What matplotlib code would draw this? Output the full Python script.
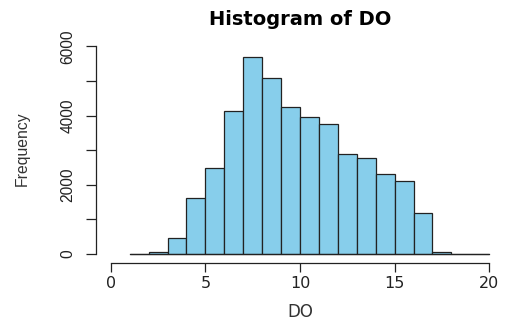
import numpy as np
import matplotlib.pyplot as plt

plt.rcParams['font.family'] = ['DejaVu Sans']

# Histogram of DO: bin edges (width 1) and counts
bin_edges = np.arange(1, 21)
counts = [0, 60, 460, 1620, 2470, 4130, 5700, 5090, 4240, 3950,
          3750, 2880, 2760, 2320, 2110, 1170, 55, 0, 0]

x_ticks = [0, 5, 10, 15, 20]
y_ticks = [0, 2000, 4000, 6000]
y_minor = [1000, 3000, 5000]

fig = plt.figure(figsize=(5.05, 3.24), dpi=100)
W, H = 505, 324
# axes placed in pixel terms: x 0..20 -> 110.7..489.3, y 0..6000 -> 253.8..46.5
x_px = (95.6, 504.4)
y_px = (43.0, 261.7)
ax = fig.add_axes([x_px[0] / W, 1 - y_px[1] / H,
                   (x_px[1] - x_px[0]) / W, (y_px[1] - y_px[0]) / H])
ax.set_xlim(-0.8, 20.8)
ax.set_ylim(-230, 6100)

ax.bar(bin_edges[:-1], counts, width=1, align='edge',
       color='skyblue', edgecolor='#222222', linewidth=0.9)
# zero-count bins are drawn as flat lines in R
ax.plot([bin_edges[0], bin_edges[-1]], [0, 0], color='#222222', lw=0.9)

for s in ['top', 'right']:
    ax.spines[s].set_visible(False)
ax.spines['left'].set_bounds(0, 6000)
ax.spines['bottom'].set_bounds(0, 20)
ax.spines['bottom'].set_position(('outward', 1.0))
for s in ['left', 'bottom']:
    ax.spines[s].set_linewidth(0.9)
    ax.spines[s].set_color('#222222')

ax.set_xticks(x_ticks)
ax.set_yticks(y_ticks + y_minor)
ax.set_yticklabels([str(v) for v in y_ticks] + [''] * len(y_minor),
                   family='Liberation Sans', fontsize=11.2)
ax.tick_params(axis='x', length=6.5, width=0.9, pad=3, labelsize=11.5,
               colors='#222222')
ax.tick_params(axis='y', length=7.5, width=0.9, pad=7.2,
               colors='#222222', labelrotation=90)
for lab in ax.get_yticklabels():
    lab.set_va('center')

ax.set_xlabel('DO', fontsize=12, color='#333333', va='baseline')
ax.xaxis.set_label_coords(300 / W, 1 - 317 / H, transform=fig.transFigure)
ax.set_ylabel('Frequency', fontsize=11.3, color='#333333',
              family='Liberation Sans', va='center')
ax.yaxis.set_label_coords(22 / W, 1 - 148.5 / H, transform=fig.transFigure)
fig.text(300 / W, 1 - 25 / H, 'Histogram of DO', ha='center', va='baseline',
         fontsize=14, fontweight='bold')

fig.savefig('out.png', dpi=100)
